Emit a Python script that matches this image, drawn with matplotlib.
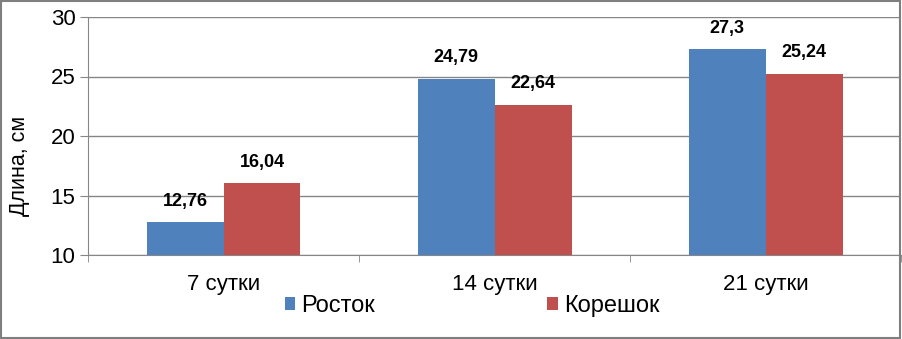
import numpy as np
import matplotlib.pyplot as plt
from matplotlib.patches import Rectangle

plt.rcParams['font.family'] = ['Liberation Sans', 'DejaVu Sans']

categories = ['7 сутки', '14 сутки', '21 сутки']
rostok = [12.76, 24.79, 27.3]
koreshok = [16.04, 22.64, 25.24]
rostok_labels = ['12,76', '24,79', '27,3']
koreshok_labels = ['16,04', '22,64', '25,24']

grid_c = '#868686'
fig = plt.figure(figsize=(9.02, 3.39), dpi=100)
ax = fig.add_axes([88 / 902, 1 - 255 / 339, 1 - 88 / 902 - 0.001, (255 - 17) / 339])

x = np.arange(len(categories))
w = 0.284
b1 = ax.bar(x - w / 2, np.array(rostok) - 10, w, bottom=10, color='#4F81BD', label='Росток', zorder=3)
b2 = ax.bar(x + w / 2, np.array(koreshok) - 10, w, bottom=10, color='#C0504D', label='Корешок', zorder=3)

for xi, v, t in zip(x - w / 2, rostok, rostok_labels):
    ax.annotate(t, (xi, v), xytext=(0, 9), textcoords='offset points',
                ha='center', va='bottom', fontsize=13, fontweight='bold')
for xi, v, t in zip(x + w / 2, koreshok, koreshok_labels):
    ax.annotate(t, (xi, v), xytext=(0, 9), textcoords='offset points',
                ha='center', va='bottom', fontsize=13, fontweight='bold')

ax.set_xlim(-0.5, 2.5)
ax.set_ylim(10, 30)
ax.set_yticks([10, 15, 20, 25, 30])
ax.tick_params(axis='y', labelsize=16, length=6, color=grid_c, pad=3)
ax.set_xticks(x)
ax.set_xticklabels(categories)
ax.tick_params(axis='x', labelsize=16, length=0, pad=14)
ax.set_xticks([-0.5, 0.5, 1.5, 2.5], minor=True)
ax.tick_params(axis='x', which='minor', length=5, color=grid_c)
ax.grid(axis='y', color=grid_c, linewidth=1, zorder=0)
for s in ['top', 'right']:
    ax.spines[s].set_visible(False)
ax.spines['left'].set_color(grid_c)
ax.spines['bottom'].set_color(grid_c)
ax.set_ylabel('Длина, см', fontsize=15.5)
ax.yaxis.set_label_coords(-0.071, 0.375)

fig.legend(handles=[b1, b2], loc='center', bbox_to_anchor=(472 / 902, 1 - 306 / 339), ncol=2,
           frameon=False, fontsize=17, handlelength=0.45, handleheight=0.45,
           handletextpad=0.25, columnspacing=7.3)

fig.patches.append(Rectangle((0.001, 0.002), 0.997, 0.995, transform=fig.transFigure,
                             fill=False, edgecolor='#7f7f7f', linewidth=1.5))

fig.savefig('out.png', dpi=100)
